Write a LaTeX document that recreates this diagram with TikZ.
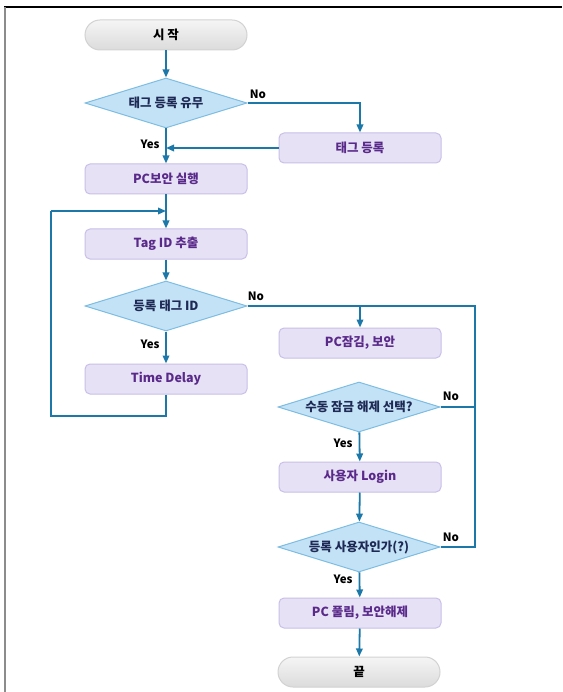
\documentclass[tikz,border=0pt]{standalone}
\usepackage{fontspec}
\setmainfont{Noto Sans CJK KR}
\usetikzlibrary{shapes.geometric,arrows.meta}
\definecolor{arr}{HTML}{1B78A8}
\definecolor{boxfill}{HTML}{E7E1F6}
\definecolor{boxline}{HTML}{C9BFE8}
\definecolor{boxtext}{HTML}{5A2A8A}
\definecolor{dfill}{HTML}{C3E2F6}
\definecolor{dline}{HTML}{7DBDE3}
\definecolor{dtext}{HTML}{1E2A55}
\tikzset{
  procbox/.style={rectangle, rounded corners=5pt, fill=boxfill, draw=boxline, line width=1pt,
    minimum width=162pt, minimum height=30pt, inner sep=0pt, text=boxtext,
    font=\fontsize{12.5}{14}\selectfont\bfseries},
  decide/.style={diamond, fill=dfill, draw=dline, line width=1pt, aspect=3.24,
    minimum width=162pt, minimum height=50pt, inner sep=0pt, text=dtext,
    font=\fontsize{12.5}{14}\selectfont\bfseries},
  pill/.style={rectangle, rounded corners=15pt, top color=gray!8, bottom color=gray!28,
    draw=gray!35, line width=1pt, minimum width=162pt, minimum height=30pt, inner sep=0pt,
    font=\fontsize{12.5}{14}\selectfont\bfseries},
  conn/.style={draw=arr, line width=1.8pt},
  flow/.style={conn, -{Triangle[length=8pt,width=6.5pt]}},
  lbl/.style={font=\fontsize{11.5}{13}\selectfont\bfseries, inner sep=0pt}
}
\begin{document}
\begin{tikzpicture}[x=1pt,y=-1pt]
\useasboundingbox (0,0) rectangle (562,692);
\fill[white] (0,0) rectangle (562,692);
\draw[black, line width=1.5pt] (4,7) -- (562,7);
\draw[gray!90, line width=2pt] (4.5,7) -- (4.5,692);

\node[pill] (start) at (166,35) {시 작};
\node[decide] (d1) at (166,103) {태그 등록 유무};
\node[procbox] (tag) at (360,148) {태그 등록};
\node[procbox] (pcsec) at (166,179) {PC보안 실행};
\node[procbox] (tagid) at (166,244) {Tag ID 추출};
\node[decide] (d2) at (166,306) {등록 태그 ID};
\node[procbox] (lock) at (360,343) {PC잠김, 보안};
\node[procbox] (delay) at (166,379) {Time Delay};
\node[decide] (d3) at (359,407) {수동 잠금 해제 선택?};
\node[procbox] (login) at (360,477) {사용자 Login};
\node[decide] (d4) at (359,547) {등록 사용자인가(?)};
\node[procbox] (unlock) at (360,613) {PC 풀림, 보안해제};
\node[pill] (end) at (359,672) {끝};

\coordinate (loopB) at (51,416);
\coordinate (loopT) at (51,211);
\coordinate (rtop) at (475,306);
\coordinate (rbot) at (475,547);

\draw[flow] (start) -- (d1);
\draw[flow] (d1.east) -| (tag.north);
\draw[flow] (tag.west) -- (tag.west -| d1.south);
\draw[flow] (d1) -- (pcsec);
\draw[flow] (pcsec) -- (tagid);
\draw[flow] (tagid) -- (d2);
\draw[flow] (d2) -- (delay);
\draw[conn] (delay.south) |- (loopB) -- (loopT);
\draw[flow] (loopT) -- (loopT -| pcsec.south);
\draw[conn] (d2.east) -- (rtop) -- (rbot) -- (d4.east);
\draw[flow] (lock.north |- d2.east) -- (lock.north);
\draw[conn] (d3.east) -- (d3.east -| rtop);
\draw[flow] (d3) -- (login);
\draw[flow] (login) -- (d4);
\draw[flow] (d4) -- (unlock);
\draw[flow] (unlock) -- (end);

\node[lbl] (no1) at (258,94) {No};
\node[lbl] (yes1) at (150,144) {Yes};
\node[lbl] (no2) at (256,296) {No};
\node[lbl] (yes2) at (150,344) {Yes};
\node[lbl] (no3) at (451,396) {No};
\node[lbl] (yes3) at (343,443) {Yes};
\node[lbl] (no4) at (451,537) {No};
\node[lbl] (yes4) at (343,579) {Yes};
\end{tikzpicture}
\end{document}
